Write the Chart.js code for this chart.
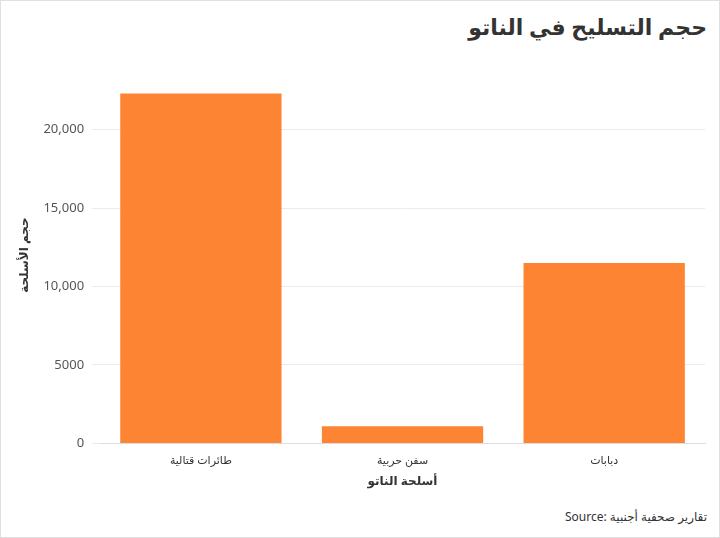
<!DOCTYPE html>
<html><head><meta charset="utf-8">
<script src="https://cdn.jsdelivr.net/npm/chart.js@4"></script>
<style>
html,body{margin:0;padding:0;background:#fff;}
#wrap{position:relative;width:718px;height:536px;border:1px solid #e0e0e0;}
#title{position:absolute;right:12px;top:10px;font:bold 22px "Noto Sans","DejaVu Sans",sans-serif;color:#333;direction:rtl;}
#src{position:absolute;right:12px;bottom:12px;font:12px "Noto Sans","DejaVu Sans",sans-serif;color:#333;}
#c{position:absolute;left:0;top:50px;}
</style></head><body>
<div id="wrap">
<div id="title">حجم التسليح في الناتو</div>
<canvas id="c" width="718" height="450"></canvas>
<div id="src">Source: تقارير صحفية أجنبية</div>
</div>
<script>
const categories = ["طائرات قتالية", "سفن حربية", "دبابات"];
const values = [22300, 1100, 11500];
const yTicks = [0, 5000, 10000, 15000, 20000];
const font = "'Noto Sans','DejaVu Sans',sans-serif";
new Chart(document.getElementById('c'), {
  type: 'bar',
  data: { labels: categories, datasets: [{ data: values, backgroundColor: '#fd8433', categoryPercentage: 1, barPercentage: 0.8 }] },
  options: {
    responsive: false, animation: false,
    layout: { padding: { left: 12, right: 14, top: 8, bottom: 8 } },
    plugins: { legend: { display: false }, tooltip: { enabled: false } },
    scales: {
      x: { grid: { display: false }, border: { color: '#ddd' },
           ticks: { color: '#333', font: { family: font, size: 11 } },
           title: { display: true, text: 'أسلحة الناتو', color: '#333', font: { family: font, size: 12, weight: 'bold' } } },
      y: { min: 0, max: 24000, afterBuildTicks: a => { a.ticks = yTicks.map(v => ({ value: v })); },
           grid: { color: '#ebebeb' }, border: { display: false },
           ticks: { color: '#555', padding: 8, font: { family: font, size: 13 },
                    callback: v => v >= 10000 ? v.toLocaleString('en-US') : String(v) },
           title: { display: true, text: 'حجم الأسلحة', color: '#333', font: { family: font, size: 12, weight: 'bold' } } }
    }
  }
});
</script>
</body></html>
